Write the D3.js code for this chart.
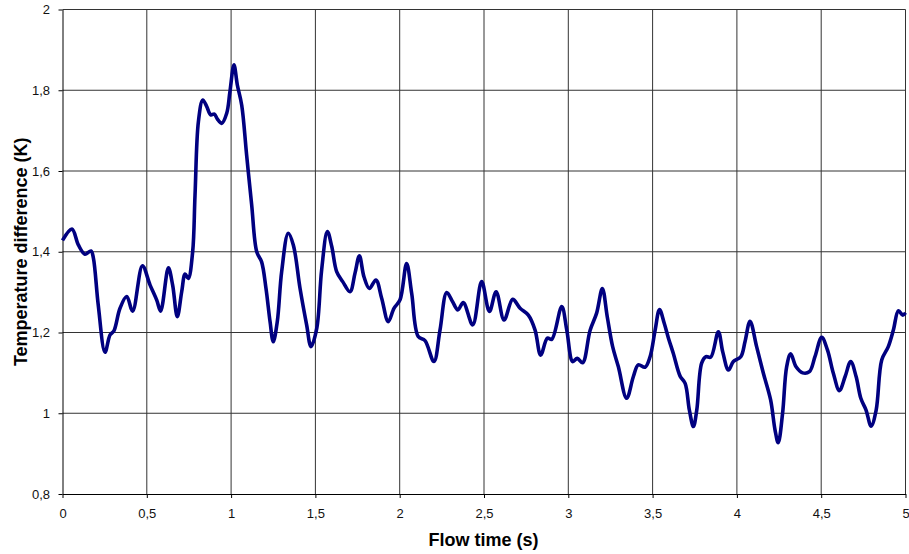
<!DOCTYPE html>
<html>
<head>
<meta charset="utf-8">
<script src="https://cdn.jsdelivr.net/npm/d3@7"></script>
<style>
  body { margin: 0; background: #fff; }
  svg { display: block; font-family: Arial, "Liberation Sans", sans-serif; }
</style>
</head>
<body>
<div id="chart"></div>
<script>
// Chart data
const flow_time = [
  0.00, 0.056, 0.094, 0.133, 0.169, 0.183, 0.212, 0.252, 0.282, 0.305,
  0.341, 0.381, 0.416, 0.474, 0.519, 0.559, 0.582, 0.628, 0.653, 0.681,
  0.707, 0.727, 0.746, 0.772, 0.786, 0.806, 0.832, 0.855, 0.879, 0.901,
  0.918, 0.944, 0.974, 0.993, 1.017, 1.037, 1.063, 1.092, 1.122, 1.152,
  1.181, 1.207, 1.231, 1.250, 1.274, 1.300, 1.339, 1.369, 1.409, 1.448,
  1.474, 1.508, 1.537, 1.571, 1.597, 1.626, 1.662, 1.705, 1.735, 1.761,
  1.788, 1.820, 1.859, 1.893, 1.932, 1.966, 2.002, 2.041, 2.071, 2.110,
  2.150, 2.203, 2.239, 2.279, 2.314, 2.345, 2.377, 2.433, 2.486, 2.532,
  2.572, 2.619, 2.670, 2.714, 2.763, 2.803, 2.836, 2.876, 2.902, 2.961,
  2.991, 3.026, 3.053, 3.085, 3.129, 3.168, 3.202, 3.231, 3.263, 3.297,
  3.346, 3.386, 3.415, 3.455, 3.485, 3.515, 3.541, 3.569, 3.594, 3.623,
  3.663, 3.693, 3.718, 3.742, 3.762, 3.791, 3.817, 3.845, 3.890, 3.916,
  3.950, 3.979, 4.023, 4.048, 4.078, 4.117, 4.157, 4.200, 4.226, 4.245,
  4.271, 4.295, 4.319, 4.351, 4.390, 4.430, 4.463, 4.503, 4.537, 4.572,
  4.608, 4.642, 4.675, 4.707, 4.735, 4.766, 4.796, 4.826, 4.859, 4.898,
  4.928, 4.958, 4.984, 5.000
]
const temp_diff = [
  1.428, 1.456, 1.417, 1.394, 1.402, 1.385, 1.268, 1.151, 1.194, 1.204,
  1.260, 1.289, 1.253, 1.365, 1.318, 1.280, 1.253, 1.360, 1.318, 1.239,
  1.301, 1.345, 1.334, 1.400, 1.540, 1.722, 1.776, 1.760, 1.739, 1.741,
  1.729, 1.718, 1.743, 1.796, 1.863, 1.813, 1.763, 1.640, 1.516, 1.400,
  1.375, 1.309, 1.227, 1.177, 1.227, 1.351, 1.446, 1.417, 1.309, 1.219,
  1.165, 1.210, 1.355, 1.450, 1.413, 1.351, 1.326, 1.301, 1.347, 1.390,
  1.338, 1.309, 1.330, 1.285, 1.227, 1.260, 1.281, 1.371, 1.297, 1.190,
  1.180, 1.128, 1.206, 1.299, 1.276, 1.256, 1.274, 1.219, 1.326, 1.252,
  1.301, 1.231, 1.282, 1.260, 1.243, 1.206, 1.144, 1.186, 1.183, 1.264,
  1.206, 1.128, 1.136, 1.125, 1.205, 1.248, 1.309, 1.239, 1.165, 1.115,
  1.037, 1.091, 1.120, 1.114, 1.140, 1.206, 1.257, 1.223, 1.186, 1.148,
  1.092, 1.074, 1.008, 0.967, 1.008, 1.124, 1.140, 1.139, 1.202, 1.152,
  1.107, 1.128, 1.140, 1.177, 1.228, 1.165, 1.099, 1.033, 0.959, 0.927,
  1.000, 1.115, 1.147, 1.115, 1.100, 1.103, 1.140, 1.188, 1.157, 1.099,
  1.056, 1.091, 1.128, 1.091, 1.037, 1.008, 0.968, 1.008, 1.132, 1.165,
  1.206, 1.254, 1.243, 1.249
]
const x_ticks = [0, 0.5, 1, 1.5, 2, 2.5, 3, 3.5, 4, 4.5, 5]
const y_ticks = [0.8, 1, 1.2, 1.4, 1.6, 1.8, 2]

// Layout
const width = 909
const height = 554
const margin = {top: 9.5, right: 3.5, bottom: 60, left: 62.5}
const plot_w = width - margin.left - margin.right
const plot_h = height - margin.top - margin.bottom

// comma as decimal separator
const fmt = d => String(d).replace(".", ",")

const svg = d3.select("#chart").append("svg")
    .attr("width", width)
    .attr("height", height)

svg.append("rect")
    .attr("width", width)
    .attr("height", height)
    .attr("fill", "#fff")

const g = svg.append("g")
    .attr("transform", "translate(" + margin.left + "," + margin.top + ")")

const x = d3.scaleLinear().domain([0, 5]).range([0, plot_w])
const y = d3.scaleLinear().domain([0.8, 2]).range([plot_h, 0])

// Grid
g.append("g")
    .selectAll("line")
    .data(x_ticks.slice(1))
    .join("line")
    .attr("x1", d => x(d)).attr("x2", d => x(d))
    .attr("y1", 0).attr("y2", plot_h)
    .attr("stroke", "#333")
    .attr("stroke-width", 1)

g.append("g")
    .selectAll("line")
    .data(y_ticks.slice(1))
    .join("line")
    .attr("x1", 0).attr("x2", plot_w)
    .attr("y1", d => y(d)).attr("y2", d => y(d))
    .attr("stroke", "#333")
    .attr("stroke-width", 1)

// Axes
const x_axis = g.append("g")
    .attr("transform", "translate(0," + plot_h + ")")
    .call(d3.axisBottom(x).tickValues(x_ticks).tickFormat(fmt)
        .tickSize(4).tickSizeOuter(0).tickPadding(11))

const y_axis = g.append("g")
    .call(d3.axisLeft(y).tickValues(y_ticks).tickFormat(fmt)
        .tickSize(4).tickSizeOuter(0).tickPadding(8.5))

for (const ax of [x_axis, y_axis]) {
    ax.selectAll("path, line").attr("stroke", "#000")
    ax.selectAll("text")
        .attr("fill", "#111")
        .style("font-size", "13px")
}

// Series
const line = d3.line()
    .x((d, i) => x(flow_time[i]))
    .y(d => y(d))
    .curve(d3.curveCatmullRom.alpha(0.5))

g.append("path")
    .datum(temp_diff)
    .attr("fill", "none")
    .attr("stroke", "#000080")
    .attr("stroke-width", 3.6)
    .attr("stroke-linejoin", "round")
    .attr("d", line)

// Titles
svg.append("text")
    .attr("x", margin.left + plot_w / 2 - 0.5)
    .attr("y", 546)
    .attr("text-anchor", "middle")
    .style("font-size", "18px")
    .style("font-weight", "bold")
    .text("Flow time (s)")

svg.append("text")
    .attr("transform", "translate(27," + (margin.top + plot_h / 2) + ") rotate(-90)")
    .attr("text-anchor", "middle")
    .style("font-size", "18px")
    .style("font-weight", "bold")
    .text("Temperature difference (K)")
</script>
</body>
</html>
